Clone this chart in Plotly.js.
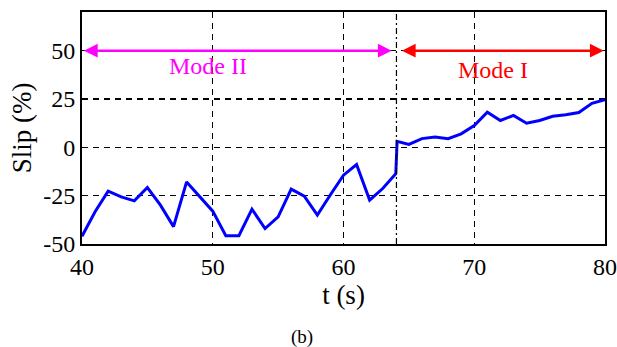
<!DOCTYPE html>
<html><head><meta charset="utf-8">
<script src="https://cdn.plot.ly/plotly-3.0.1.min.js"></script>
<style>html,body{margin:0;padding:0;background:#fff}#c{width:617px;height:347px}</style>
</head><body><div id="c"></div>
<script>
const t = [40,41,42,43,44,45,46,47,48,49,50,51,52,53,54,55,56,57,58,59,60,61,62,63,64,64.1,65,66,67,68,69,70,71,72,73,74,75,76,77,78,79,80];
const slip = [-46,-33.3,-22.7,-25.6,-27.7,-20.8,-29.9,-41,-17.9,-25.6,-33,-45.7,-45.7,-32,-42,-36,-21.6,-25.3,-35,-24.5,-14.4,-8.9,-27.3,-21.3,-13.6,3.1,1.5,4.5,5.3,4.5,7,11.3,18.2,13.9,16.5,12.5,13.9,16.1,16.8,18,22.8,24.7];
const xTicks = [40,50,60,70,80];
const yTicks = [-50,-25,0,25,50];
const modeSwitch = 64.1;
const modeLabels = ["Mode II","Mode I"];
const modeCenters = [49.6,71.4];
const arrowY = 50;

const FAM = "Liberation Serif";
const data = [{x:t, y:slip, type:"scatter", mode:"lines", line:{color:"#0000ff", width:3}, hoverinfo:"skip"}];
const layout = {
  width:617, height:347,
  margin:{l:82, r:12, t:12, b:103},
  paper_bgcolor:"#fff", plot_bgcolor:"#fff",
  showlegend:false,
  font:{family:FAM, size:22, color:"#000"},
  xaxis:{range:[40,80], tickvals:xTicks, ticktext:xTicks.map(String), showline:true, mirror:true, linecolor:"#000", linewidth:2,
    showgrid:true, gridcolor:"#000", gridwidth:1.2, griddash:"6px,5px", zeroline:false, ticks:"", ticklen:0,
    tickfont:{family:FAM, size:24, color:"#000"},
    title:{text:"t (s)", font:{family:FAM, size:27, color:"#000"}, standoff:2}},
  yaxis:{range:[-50,70], tickvals:yTicks, ticktext:yTicks.map(String), showline:true, mirror:true, linecolor:"#000", linewidth:2,
    showgrid:true, gridcolor:"#000", gridwidth:1.2, griddash:"6px,5px", zeroline:false, ticks:"", ticklen:0,
    tickfont:{family:FAM, size:24, color:"#000"},
    title:{text:"Slip (%)", font:{family:FAM, size:27, color:"#000"}, standoff:4}},
  shapes:[{type:"line", xref:"x", yref:"paper", x0:modeSwitch-0.05, x1:modeSwitch-0.05, y0:0, y1:1,
    line:{color:"#000", width:1.2, dash:"6px,3px,2px,3px"}}],
  annotations:[
    {x:40.15, y:arrowY, ax:63.8, ay:arrowY, xref:"x", yref:"y", axref:"x", ayref:"y", text:"", showarrow:true,
      arrowhead:2, startarrowhead:2, arrowside:"end+start", arrowsize:1.1, startarrowsize:1.1, arrowwidth:2.5, arrowcolor:"#ff00ff"},
    {x:79.9, y:arrowY, ax:64.35, ay:arrowY, xref:"x", yref:"y", axref:"x", ayref:"y", text:"", showarrow:true,
      arrowhead:2, startarrowhead:2, arrowside:"end+start", arrowsize:1.1, startarrowsize:1.1, arrowwidth:2.5, arrowcolor:"#ff0000"},
    {x:modeCenters[0], y:42, xref:"x", yref:"y", text:modeLabels[0], showarrow:false, font:{family:FAM, size:24, color:"#ff00ff"}},
    {x:modeCenters[1], y:40, xref:"x", yref:"y", text:modeLabels[1], showarrow:false, font:{family:FAM, size:24, color:"#ff0000"}},
    {x:0.42, y:-0.4, xref:"paper", yref:"paper", xanchor:"center", yanchor:"middle", text:"(b)", showarrow:false, font:{family:FAM, size:19, color:"#000"}}
  ]
};
Plotly.newPlot("c", data, layout, {staticPlot:true, displayModeBar:false});
</script></body></html>
